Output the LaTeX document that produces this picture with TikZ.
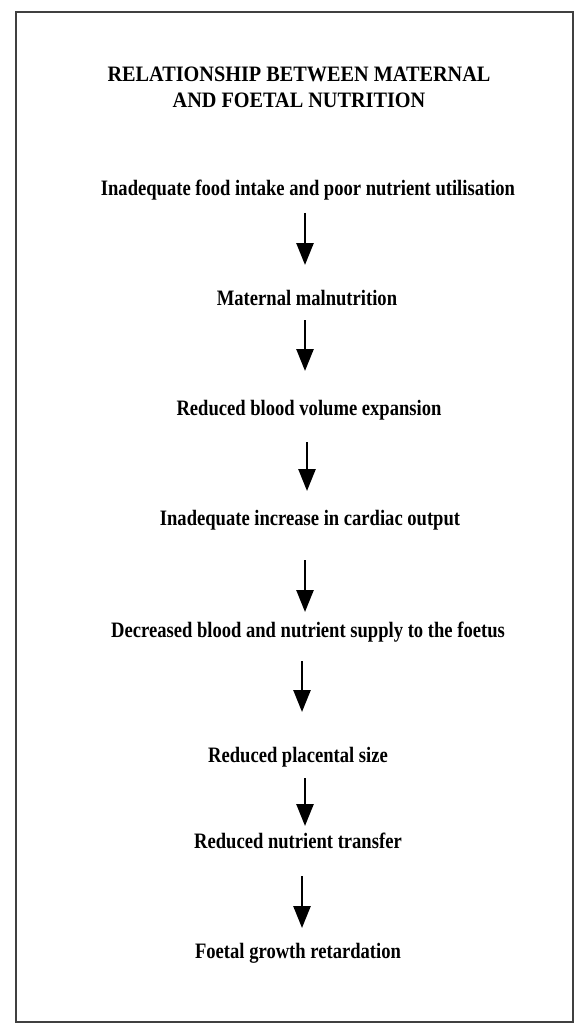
\documentclass[tikz,border=0pt]{standalone}
\usepackage{fontspec}
\setmainfont{Liberation Serif}[FakeStretch=0.845]
\newfontfamily\titlefont{Liberation Serif}[FakeStretch=0.92]
\usetikzlibrary{arrows.meta}
\tikzset{
  txt/.style={font=\fontsize{22}{24}\selectfont\bfseries, inner sep=0pt, text=black},
  ttl/.style={font=\titlefont\fontsize{22}{26}\selectfont\bfseries, inner sep=0pt, align=center, text=black},
  arr/.style={line width=2.6pt, -{Triangle[length=22pt,width=17pt]}, shorten >=0pt},
  frame/.style={line width=1.6pt, draw=black!75}
}
\begin{document}
\begin{tikzpicture}[x=1pt,y=-1pt]
\useasboundingbox (0,0) rectangle (575,1024);
\draw[frame] (16,12) rectangle (573,1022);
\node[ttl] (title) at (299,87) {RELATIONSHIP BETWEEN MATERNAL\\AND FOETAL NUTRITION};
\node[txt] (t1) at (308,190) {Inadequate food intake and poor nutrient utilisation};
\node[txt] (t2) at (307,298) {Maternal malnutrition};
\node[txt] (t3) at (309,410) {Reduced blood volume expansion};
\node[txt] (t4) at (310,520) {Inadequate increase in cardiac output};
\node[txt] (t5) at (308,632) {Decreased blood and nutrient supply to the foetus};
\node[txt] (t6) at (298,757) {Reduced placental size};
\node[txt] (t7) at (298,841) {Reduced nutrient transfer};
\node[txt] (t8) at (298,953) {Foetal growth retardation};
\coordinate (a1s) at (305,213); \coordinate (a1e) at (305,265);
\coordinate (a2s) at (305,320); \coordinate (a2e) at (305,371);
\coordinate (a3s) at (307,442); \coordinate (a3e) at (307,491);
\coordinate (a4s) at (305,560); \coordinate (a4e) at (305,612);
\coordinate (a5s) at (302,661); \coordinate (a5e) at (302,712);
\coordinate (a6s) at (305,778); \coordinate (a6e) at (305,826);
\coordinate (a7s) at (302,876); \coordinate (a7e) at (302,928);
\draw[arr] (a1s) -- (a1e);
\draw[arr] (a2s) -- (a2e);
\draw[arr] (a3s) -- (a3e);
\draw[arr] (a4s) -- (a4e);
\draw[arr] (a5s) -- (a5e);
\draw[arr] (a6s) -- (a6e);
\draw[arr] (a7s) -- (a7e);
\end{tikzpicture}
\end{document}
